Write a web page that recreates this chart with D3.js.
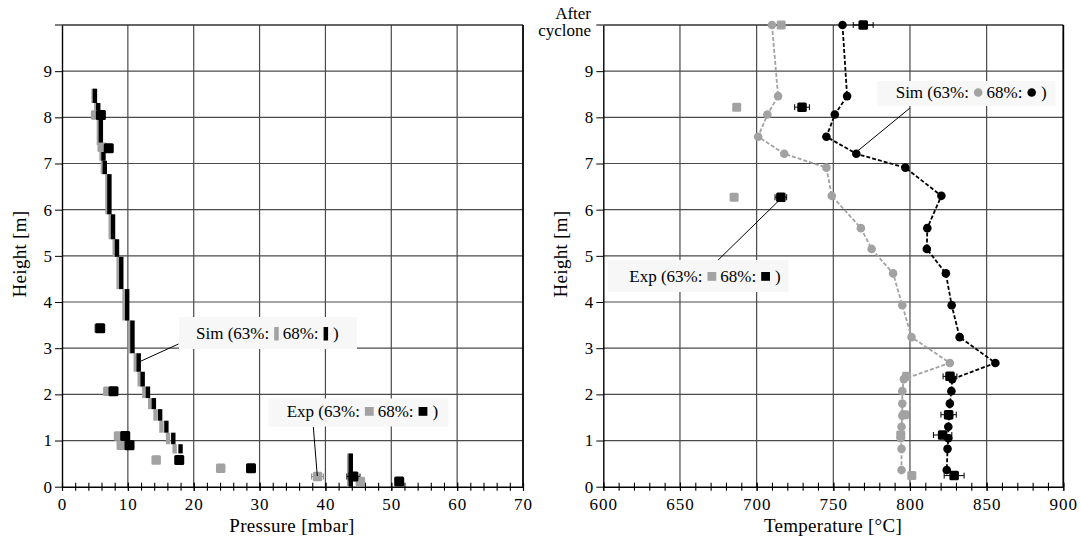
<!DOCTYPE html>
<html>
<head>
<meta charset="utf-8">
<script src="https://cdn.jsdelivr.net/npm/d3@7"></script>
<style>
body { margin: 0; background: #fff; }
svg text { font-family: "Liberation Serif", "Times New Roman", Times, "DejaVu Serif", serif; fill: #000; }
</style>
</head>
<body>
<div id="chart"></div>
<script>
// ---- pressure panel: simulated pressure steps (top/bottom height of each step)
var simTop    = [8.62, 8.31, 7.96, 7.40, 7.06, 6.77, 5.90, 5.36, 4.98, 4.28, 3.60, 2.89, 2.49, 2.17, 1.92, 1.68, 1.43, 1.17, 0.92, 0.72];
var simBottom = [8.31, 7.96, 7.40, 7.06, 6.77, 5.90, 5.36, 4.98, 4.28, 3.60, 2.89, 2.49, 2.17, 1.92, 1.68, 1.43, 1.17, 0.92, 0.72, 0.00];
var simP63    = [4.8, 5.2, 5.6, 6.0, 6.2, 6.9, 7.4, 8.0, 8.6, 9.5, 10.3, 11.2, 11.8, 12.5, 13.4, 14.2, 15.1, 16.1, 17.1, 43.6];
var simP68    = [5.0, 5.5, 5.9, 6.3, 6.5, 7.2, 7.75, 8.35, 9.0, 9.9, 10.7, 11.65, 12.25, 13.05, 13.95, 14.9, 15.85, 16.9, 18.0, 43.85];

// ---- pressure panel: measured points
var expPH63 = [8.05, 7.35, 3.43, 2.07, 1.10, 0.90, 0.58, 0.40, 0.22, 0.11];
var expP63  = [5.1, 6.1, 5.6, 6.96, 8.58, 9.0, 14.3, 24.1, 38.8, 45.3];
var expPErr63 = [0, 0, 0, 0, 0, 0, 0, 0.4, 0.9, 0.3];
var expPH68 = [8.05, 7.33, 3.43, 2.07, 1.10, 0.90, 0.58, 0.40, 0.22, 0.11];
var expP68  = [5.9, 7.1, 5.8, 7.82, 9.6, 10.25, 17.8, 28.7, 44.25, 51.2];
var expPErr68 = [0, 0, 0, 0, 0, 0, 0, 0.4, 1.0, 0.3];

// ---- temperature panel: simulation
var simTH  = [10, 8.46, 8.06, 7.58, 7.21, 6.91, 6.30, 5.60, 5.15, 4.62, 3.93, 3.24, 2.68, 2.33, 2.07, 1.80, 1.54, 1.30, 1.05, 0.82, 0.36];
var simT63 = [710, 714, 707, 701, 718, 745.5, 749, 768, 775, 789, 795, 801, 826, 796, 795, 795, 795, 794.5, 794, 794.5, 794.5];
var simT68 = [756, 759, 751, 745.5, 765, 797, 820.5, 811.3, 811, 823.4, 827.2, 832.4, 855.7, 827.6, 827, 826, 825.5, 825, 825, 824.5, 824];

// ---- temperature panel: measured
var expTH   = [10, 8.22, 6.27, 2.39, 1.56, 1.12, 0.24];
var expT63  = [716, 687, 685.3, 797.8, 796.4, 794, 801.2];
var expTErr63 = [0, 0, 0, 2, 2, 2, 2];
var expT68  = [769.5, 729.6, 715.8, 826.1, 825.2, 821.3, 828.8];
var expTErr68 = [6.5, 4.8, 3.8, 4.5, 5, 6, 6.5];

// ---- ticks
var heightTicks = [0, 1, 2, 3, 4, 5, 6, 7, 8, 9];
var pressTicks = [0, 10, 20, 30, 40, 50, 60, 70];
var tempTicks = [600, 650, 700, 750, 800, 850, 900];

var width = 1081, height = 544;
var gray = '#a2a2a2';
var serif = '"Liberation Serif", "Times New Roman", Times, "DejaVu Serif", serif';

var svg = d3.select('#chart').append('svg')
    .attr('width', width)
    .attr('height', height)
    .attr('font-family', serif);

svg.append('rect').attr('width', width).attr('height', height).attr('fill', '#fff');

var y = d3.scaleLinear().domain([0, 10]).range([486.7, 25]);
var xP = d3.scaleLinear().domain([0, 70]).range([62, 523]);
var xT = d3.scaleLinear().domain([600, 900]).range([603.3, 1063.3]);

//draws grid, frame, axes for one panel
function panel(x, majors, minorStep, xTitle, titleX) {
    var g = svg.append('g');
    var d = x.domain();
    var x0 = x.range()[0], x1 = x.range()[1];

    // grid
    g.selectAll('.vg').data(majors.slice(1, -1)).enter().append('line')
        .attr('x1', function(v){ return x(v); }).attr('x2', function(v){ return x(v); })
        .attr('y1', y(10)).attr('y2', y(0))
        .attr('stroke', '#4a4a4a').attr('stroke-width', 1.2);
    g.selectAll('.hg').data(d3.range(1, 10)).enter().append('line')
        .attr('x1', x0).attr('x2', x1)
        .attr('y1', function(v){ return y(v); }).attr('y2', function(v){ return y(v); })
        .attr('stroke', '#4a4a4a').attr('stroke-width', 1.2);

    // frame
    g.append('line').attr('x1', x0).attr('x2', x1).attr('y1', y(10)).attr('y2', y(10))
        .attr('stroke', '#333').attr('stroke-width', 1.3);
    g.append('line').attr('x1', x1).attr('x2', x1).attr('y1', y(10)).attr('y2', y(0))
        .attr('stroke', '#000').attr('stroke-width', 1.8);

    // minor x ticks
    var minors = d3.range(d[0], d[1] + 0.001, minorStep);
    var minorAxis = d3.axisBottom(x).tickValues(minors).tickSize(4).tickFormat('');
    var gm = g.append('g').attr('transform', 'translate(0,' + y(0) + ')').call(minorAxis);
    gm.select('.domain').remove();
    gm.selectAll('line').attr('y1', -4).attr('stroke', '#000').attr('stroke-width', 1.1);

    // major x axis
    var xAxis = d3.axisBottom(x).tickValues(majors).tickSize(4).tickPadding(7.5).tickSizeOuter(0);
    var gx = g.append('g').attr('transform', 'translate(0,' + y(0) + ')').call(xAxis)
        .attr('font-family', serif).attr('font-size', 17);
    gx.select('.domain').attr('stroke', '#000').attr('stroke-width', 1.6);
    gx.selectAll('line').attr('y1', -4).attr('stroke', '#000').attr('stroke-width', 1.1);
    gx.selectAll('text').attr('letter-spacing', '1px');

    // y axis
    var yAxis = d3.axisLeft(y).tickValues(heightTicks).tickSize(7).tickPadding(3).tickSizeOuter(0);
    var gy = g.append('g').attr('transform', 'translate(' + x0 + ',0)').call(yAxis)
        .attr('font-family', serif).attr('font-size', 17);
    gy.select('.domain').attr('stroke', '#000').attr('stroke-width', 1.4);
    gy.selectAll('line').attr('stroke', '#000');
    g.append('line').attr('x1', x0 - 7).attr('x2', x0).attr('y1', y(10)).attr('y2', y(10))
        .attr('stroke', '#000');

    // titles
    g.append('text').attr('x', titleX).attr('y', 532).attr('text-anchor', 'middle')
        .attr('font-size', '19px').attr('letter-spacing', '0.3px').text(xTitle);
    g.append('text')
        .attr('transform', 'translate(' + (x0 - 36.5) + ',254) rotate(-90)')
        .attr('text-anchor', 'middle').attr('font-size', '19px').attr('letter-spacing', '0.3px')
        .text('Height [m]');
    return g;
}

panel(xP, pressTicks, 2, 'Pressure [mbar]', 292);
panel(xT, tempTicks, 10, 'Temperature [°C]', 833);

// After cyclone label
svg.append('text').attr('x', 591).attr('y', 19).attr('text-anchor', 'end')
    .attr('font-size', '17px').text('After');
svg.append('text').attr('x', 591).attr('y', 36).attr('text-anchor', 'end')
    .attr('font-size', '17px').text('cyclone');

// ---------- pressure data ----------
var gP = svg.append('g');
var barW = 4.4;
function simBars(vals, col) {
    gP.selectAll(null).data(vals).enter().append('rect')
        .attr('x', function(v){ return xP(v) - barW / 2; })
        .attr('y', function(v, i){ return y(simTop[i]); })
        .attr('width', barW)
        .attr('height', function(v, i){ return y(simBottom[i]) - y(simTop[i]); })
        .attr('fill', col);
}
simBars(simP63, gray);
simBars(simP68, '#000');

function errBars(g, xs, hs, errs, sx, col) {
    xs.forEach(function(v, i){
        if (!errs[i]) return;
        var yy = y(hs[i]), a = sx(v - errs[i]), b = sx(v + errs[i]);
        g.append('line').attr('x1', a).attr('x2', b).attr('y1', yy).attr('y2', yy)
            .attr('stroke', col).attr('stroke-width', 1);
        [a, b].forEach(function(e){
            g.append('line').attr('x1', e).attr('x2', e).attr('y1', yy - 3).attr('y2', yy + 3)
                .attr('stroke', col).attr('stroke-width', 1);
        });
    });
}
function squares(g, xs, hs, sx, col, s) {
    g.selectAll(null).data(xs).enter().append('rect')
        .attr('x', function(v){ return sx(v) - s / 2; })
        .attr('y', function(v, i){ return y(hs[i]) - s / 2; })
        .attr('width', s).attr('height', s).attr('rx', 1.5)
        .attr('fill', col);
}
errBars(gP, expP63, expPH63, expPErr63, xP, '#888');
errBars(gP, expP68, expPH68, expPErr68, xP, '#000');
squares(gP, expP63, expPH63, xP, gray, 9.5);
squares(gP, expP68, expPH68, xP, '#000', 10);

// ---------- temperature data ----------
var gT = svg.append('g');
function simLine(vals, col) {
    var line = d3.line()
        .x(function(v){ return xT(v); })
        .y(function(v, i){ return y(simTH[i]); });
    gT.append('path').datum(vals).attr('d', line)
        .attr('fill', 'none').attr('stroke', col).attr('stroke-width', 1.8)
        .attr('stroke-dasharray', '4,2');
    gT.selectAll(null).data(vals).enter().append('circle')
        .attr('cx', function(v){ return xT(v); })
        .attr('cy', function(v, i){ return y(simTH[i]); })
        .attr('r', 4.3).attr('fill', col);
}
simLine(simT63, gray);
simLine(simT68, '#000');
errBars(gT, expT63, expTH, expTErr63, xT, '#888');
errBars(gT, expT68, expTH, expTErr68, xT, '#000');
squares(gT, expT63, expTH, xT, gray, 9);
squares(gT, expT68, expTH, xT, '#000', 9.5);

// ---------- callout labels ----------
function legend(box, tx, ty, first, marker, col1, col2, lead) {
    var g = svg.append('g');
    g.append('line').attr('x1', lead[0]).attr('y1', lead[1]).attr('x2', lead[2]).attr('y2', lead[3])
        .attr('stroke', '#000').attr('stroke-width', 1);
    g.append('rect').attr('x', box[0]).attr('y', box[1]).attr('width', box[2]).attr('height', box[3])
        .attr('fill', '#f7f7f7');
    var t1 = g.append('text').attr('x', tx).attr('y', ty).attr('font-size', '17px').text(first);
    var cx = tx + t1.node().getComputedTextLength() + 5;
    function mark(col) {
        if (marker === 'bar') {
            g.append('rect').attr('x', cx).attr('y', ty - 12).attr('width', 4.5).attr('height', 13.5).attr('fill', col);
            cx += 4.5;
        } else if (marker === 'dot') {
            g.append('circle').attr('cx', cx + 4.3).attr('cy', ty - 5.5).attr('r', 4.3).attr('fill', col);
            cx += 8.6;
        } else {
            g.append('rect').attr('x', cx).attr('y', ty - 10).attr('width', 8.8).attr('height', 8.8).attr('fill', col);
            cx += 8.8;
        }
    }
    mark(col1);
    cx += 4;
    var t2 = g.append('text').attr('x', cx).attr('y', ty).attr('font-size', '17px').text('68%:');
    cx += t2.node().getComputedTextLength() + 5;
    mark(col2);
    cx += 5;
    g.append('text').attr('x', cx).attr('y', ty).attr('font-size', '17px').text(')');
}
legend([179, 317, 178, 32], 196, 339, 'Sim (63%:', 'bar', gray, '#000', [178.5, 344, 140, 361.5]);
legend([268.5, 398.5, 180, 28], 286.7, 417, 'Exp (63%:', 'sq', gray, '#000', [313.3, 426.7, 317.3, 476]);
legend([877.5, 81, 178, 25], 895.7, 98, 'Sim (63%:', 'dot', gray, '#000', [910, 108, 857.6, 151]);
legend([607.5, 260, 181, 32], 629.3, 282, 'Exp (63%:', 'sq', gray, '#000', [718, 260.2, 780.5, 199]);
</script>
</body>
</html>
